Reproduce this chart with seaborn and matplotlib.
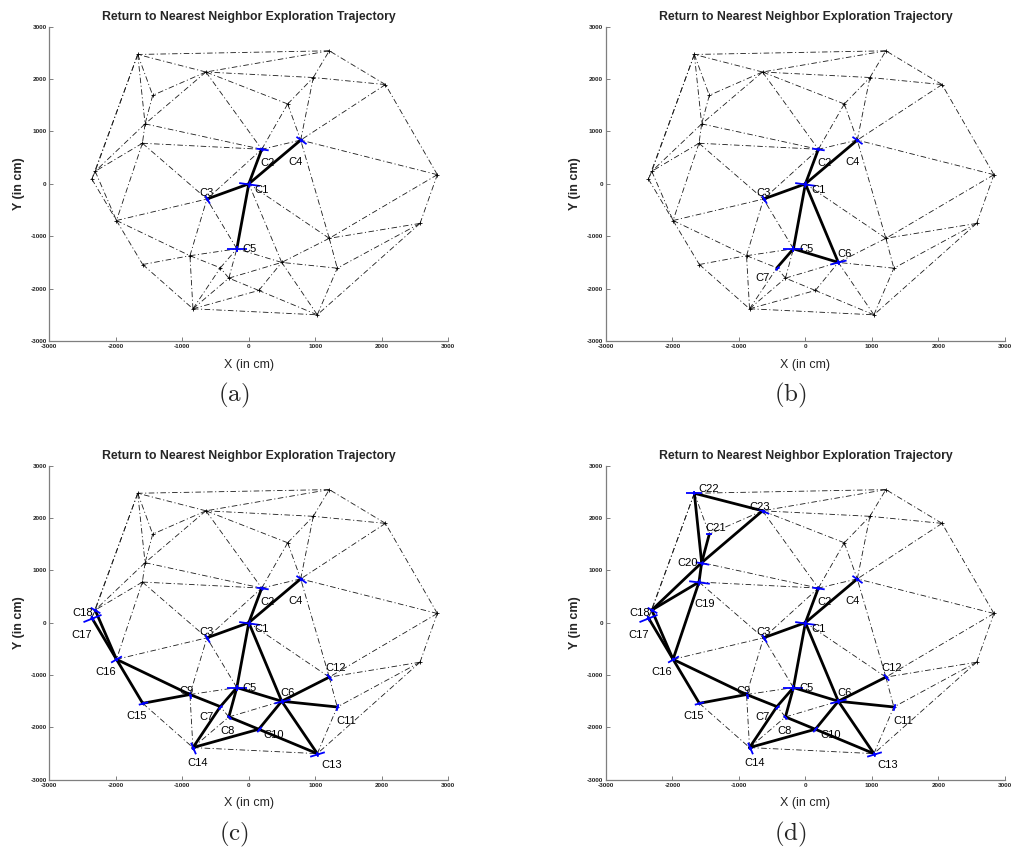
import numpy as np
import pandas as pd
import matplotlib
matplotlib.use("Agg")
import matplotlib.pyplot as plt
import matplotlib.tri as mtri
from matplotlib.markers import MarkerStyle
from matplotlib.path import Path
from matplotlib.transforms import Affine2D
import seaborn as sns

sns.set_theme(style="white")
plt.rcParams["font.family"] = ["Liberation Sans", "DejaVu Sans"]
plt.rcParams["mathtext.fontset"] = "cm"
plt.rcParams["lines.scale_dashes"] = False

# ---- sensor field: node positions in cm (C-nodes are the explored ones) ----
node_names = ["C1", "C2", "C3", "C4", "C5", "C6", "C7", "C8", "C9", "C10",
              "C11", "C12", "C13", "C14", "C15", "C16", "C17", "C18", "C19",
              "C20", "C21", "C22", "C23", "N1", "N2", "N3", "N4", "N5", "N6"]
node_x = [0, 195, -630, 780, -180, 495, -428, -300, -885, 150,
          1330, 1210, 1030, -840, -1595, -1990, -2360, -2310, -1600,
          -1560, -1445, -1670, -645, 1210, 970, 2055, 585, 2835, 2575]
node_y = [0, 660, -290, 835, -1240, -1500, -1603, -1800, -1372, -2035,
          -1610, -1040, -2500, -2385, -1540, -700, 90, 240, 775,
          1145, 1690, 2470, 2135, 2540, 2030, 1895, 1525, 175, -755]

# robot heading (deg) and pose glyph length (pt) at each explored node
heading_deg = [-8, -8, -60, -36, 0, 14, 45, -45, -80, 50, 75, -50, 17, -67,
               15, 30, 22, -30, -7, -10, 0, 0, -23]
pose_len = [15, 9, 7, 9, 15, 12, 4, 4, 5, 5, 5, 6, 11, 9, 7, 9, 14, 8,
            15, 10, 5, 11, 9]

# traversed edges, cumulative per stage
stage_a = [("C1", "C2"), ("C1", "C4"), ("C1", "C3"), ("C1", "C5")]
stage_b = stage_a + [("C1", "C6"), ("C5", "C6"), ("C5", "C7")]
stage_c = stage_b + [("C5", "C8"), ("C7", "C14"), ("C14", "C10"), ("C10", "C6"),
                     ("C6", "C12"), ("C6", "C11"), ("C6", "C13"), ("C8", "C10"),
                     ("C10", "C13"), ("C9", "C7"), ("C16", "C9"), ("C9", "C15"),
                     ("C15", "C16"), ("C16", "C17"), ("C16", "C18")]
stage_d = stage_c + [("C18", "C20"), ("C18", "C19"), ("C19", "C16"), ("C19", "C20"),
                     ("C20", "C22"), ("C20", "C21"), ("C20", "C23"), ("C22", "C23")]
stage_visited = [5, 7, 18, 23]
stage_edges = [stage_a, stage_b, stage_c, stage_d]
stage_caption = ["(a)", "(b)", "(c)", "(d)"]

# label offsets (pixels) relative to each explored node
label_dx = [13, 6, 0, -5, 13, 6, -14, -1, -3, 15, 9, 6, 14, 5, -6, -11, -10,
            -12, 6, -14, 6, 14, -3]
label_dy = [-6, -14, 6, -22, 0, 8, -10, -14, 4, -6, -14, 9, -11, -15, -13, -13,
            -17, -3, -22, 0, 6, 4, 4]

ticks = [-3000, -2000, -1000, 0, 1000, 2000, 3000]

pos = dict(zip(node_names, zip(node_x, node_y)))
tri = mtri.Triangulation(node_x, node_y)

W, H = 1013, 856
fig = plt.figure(figsize=(W / 100, H / 100), dpi=100)

ax_px = [(49.3, 26.7), (605.9, 26.7), (49.3, 465.5), (605.9, 465.5)]
ax_w, ax_h = 399.0, 314.3
cap_px = [(234, 395), (790, 395), (234, 834), (790, 834)]

pose_path = Path([(-1, 0), (1, 0), (0, -0.3), (0, 0.3)],
                 [Path.MOVETO, Path.LINETO, Path.MOVETO, Path.LINETO])

gray = "#7f7f7f"
px2pt = 0.72

for k in range(4):
    x0, y0 = ax_px[k]
    ax = fig.add_axes([x0 / W, 1 - (y0 + ax_h) / H, ax_w / W, ax_h / H])

    # triangulated mesh
    for i, j in tri.edges:
        ax.plot([node_x[i], node_x[j]], [node_y[i], node_y[j]],
                color="#1a1a1a", lw=0.6, dashes=(4, 1.8, 0.8, 1.8), zorder=1)
    sns.scatterplot(x=node_x, y=node_y, marker="+", s=10, color="black",
                    linewidth=0.6, ax=ax, zorder=2, legend=False)

    # exploration trajectory
    rows = []
    for s, (a, b) in enumerate(stage_edges[k]):
        rows.append((s, pos[a][0], pos[a][1]))
        rows.append((s, pos[b][0], pos[b][1]))
    traj = pd.DataFrame(rows, columns=["seg", "x", "y"])
    sns.lineplot(data=traj, x="x", y="y", units="seg", estimator=None,
                 sort=False, color="black", linewidth=2.0, ax=ax, zorder=3,
                 legend=False)

    # robot poses and node labels
    for n in range(stage_visited[k]):
        nx, ny = node_x[n], node_y[n]
        ms = MarkerStyle(pose_path, transform=Affine2D().rotate_deg(heading_deg[n]))
        ax.plot([nx], [ny], marker=ms, markersize=pose_len[n], color="#0000ff",
                markeredgewidth=1.3, linestyle="none", zorder=4)
        ax.annotate(node_names[n], (nx, ny),
                    xytext=(label_dx[n] * px2pt, label_dy[n] * px2pt),
                    textcoords="offset points", ha="center", va="center",
                    fontsize=8, color="black", zorder=5)

    ax.set_xlim(-3000, 3000)
    ax.set_ylim(-3000, 3000)
    ax.set_xticks(ticks)
    ax.set_yticks(ticks)
    ax.set_xticklabels([str(t) for t in ticks], fontweight="bold")
    ax.set_yticklabels([str(t) for t in ticks], fontweight="bold")
    ax.tick_params(direction="in", length=3, width=0.7, color=gray,
                   labelsize=4.6, pad=2, left=True, bottom=True)
    for side in ("top", "right"):
        ax.spines[side].set_visible(False)
    for side in ("left", "bottom"):
        ax.spines[side].set_color(gray)
        ax.spines[side].set_linewidth(0.9)
    ax.set_xlabel("X (in cm)", fontsize=9, labelpad=7)
    ax.set_ylabel("Y (in cm)", fontsize=9, fontweight="bold", labelpad=4)
    ax.set_title("Return to Nearest Neighbor Exploration Trajectory",
                 fontsize=8.8, fontweight="bold", pad=5)

    cx, cy = cap_px[k]
    fig.text(cx / W, 1 - cy / H, r"$\mathrm{" + stage_caption[k] + "}$",
             fontsize=18, ha="center", va="center")

fig.savefig("out.png", dpi=100)
